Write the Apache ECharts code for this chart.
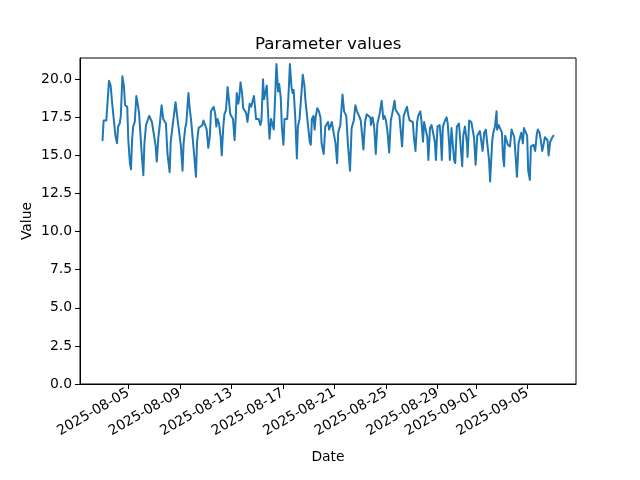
<!DOCTYPE html>
<html>
<head>
<meta charset="utf-8">
<script src="https://cdn.jsdelivr.net/npm/echarts@6/dist/echarts.min.js"></script>
<style>html,body{margin:0;padding:0;background:#fff}#c{width:640px;height:480px}</style>
</head>
<body>
<div id="c"></div>
<script>
const startDate = Date.UTC(2025, 7, 3, 0, 0);
const hoursFromStart = [0,2,5,7,12,15,18,20,24,27,29,32,34,37,40,42,46,48,51,53,55,57,60,63,65,68,71,73,76,78,81,84,87,90,92,95,99,101,104,106,110,113,116,118,121,125,127,130,133,136,
140,143,146,149,151,154,156,160,162,165,168,171,174,176,179,182,186,188,191,194,197,200,202,205,207,210,212,214,217,220,222,225,227,230,233,235,238,241,243,246,248,250,253,255,257,260,262,266,268,270,274,277,
279,282,284,286,288,291,294,296,299,301,304,306,308,311,314,317,319,322,324,327,329,332,334,337,339,342,344,347,349,352,354,356,359,362,364,367,370,373,376,378,381,383,386,388,390,393,395,397,400,403,406,408,412,415,418,
420,422,424,427,430,434,437,439,443,447,450,454,457,461,464,468,471,474,476,479,481,486,489,492,495,499,500,503,506,509,512,516,520,523,525,528,531,534,537,540,544,546,549,553,555,558,
561,564,567,570,572,575,578,580,583,586,588,592,594,597,599,602,605,607,610,613,616,619,621,624,628,630,632,634,638,641,643,646,647,650,653,655,657,660,664,667,670,672,675,679,680,683,687,690,692,695,698,701,
703,706,708,711,714,717,720,722,726,728,731,734,735,738,741,744,746,748,750,753,755,759,762,764,767,770,772,775,778,780,783,785,788,791,793,796,798,801,803,806,809,811,814,816,819,821,824,826,829,831,834,836,838,840];
const values = [16.0,17.3,17.2,17.3,19.9,19.6,18.4,18.3,16.3,15.8,16.9,17.1,17.6,20.2,19.5,18.3,18.2,16.0,14.5,14.1,16.0,16.9,17.2,18.9,18.5,17.8,17.7,15.1,13.7,15.8,17.0,17.1,17.6,17.6,17.2,17.1,15.6,14.6,16.2,16.8,18.3,17.4,17.3,17.1,15.1,13.9,15.9,16.8,16.9,18.5,
17.3,17.2,15.6,14.0,15.8,16.8,17.1,19.1,18.2,17.3,17.2,14.9,13.6,15.9,16.8,16.9,17.0,17.3,17.0,16.7,15.5,16.3,17.9,18.0,18.2,17.7,16.9,17.4,17.1,16.2,15.0,16.9,17.7,18.0,19.5,18.8,17.7,17.6,17.4,16.0,17.4,19.1,18.4,18.9,19.8,19.1,18.1,17.9,17.7,17.2,18.4,18.2,
18.5,18.9,18.2,17.4,17.5,17.4,17.0,17.3,20.0,18.7,18.6,19.6,18.0,16.1,17.4,17.5,16.7,19.3,21.0,19.2,19.7,18.8,16.9,15.7,17.4,17.4,17.4,19.4,21.0,19.5,19.1,19.3,17.5,14.8,16.9,17.4,17.5,20.3,19.6,18.6,18.6,16.9,15.9,15.7,17.4,17.6,16.7,17.5,18.1,17.9,17.5,15.8,15.1,16.9,17.0,
17.2,16.7,16.9,17.2,17.2,15.8,14.5,16.5,17.0,19.0,17.9,17.6,15.8,14.0,16.8,17.3,18.3,17.9,18.0,17.5,17.3,15.4,17.2,17.7,17.8,17.5,17.0,17.5,16.9,15.1,17.1,17.7,18.6,17.4,17.6,17.3,16.5,15.2,17.3,17.8,18.6,18.0,18.0,17.6,17.5,15.6,
17.6,17.7,18.2,17.6,17.3,17.4,17.2,16.2,15.3,17.2,17.6,17.9,17.3,15.9,17.2,17.1,16.2,14.7,16.8,17.0,16.9,15.9,14.7,16.9,17.0,16.2,14.7,16.9,17.3,17.5,17.1,15.6,14.7,16.8,16.8,14.7,14.5,16.9,17.1,17.1,14.3,16.3,16.9,15.8,14.9,17.3,17.2,17.2,16.2,14.4,16.3,16.4,
16.6,16.5,15.3,16.5,16.7,16.6,14.7,13.3,16.0,16.5,16.9,17.9,16.7,17.0,16.9,16.5,14.9,14.3,16.3,16.4,15.7,15.6,16.7,16.8,16.2,14.7,13.6,15.8,15.9,16.5,15.8,16.8,16.8,16.3,14.0,13.4,15.6,15.5,15.7,15.3,16.4,16.7,16.5,16.1,15.3,15.6,16.2,16.3,16.0,15.0,15.9,16.0,16.2,16.3];
const xTickDates = ['2025-08-05','2025-08-09','2025-08-13','2025-08-17','2025-08-21','2025-08-25','2025-08-29','2025-09-01','2025-09-05'];
const yTicks = [0,2.5,5,7.5,10,12.5,15,17.5,20];

const H = 3600 * 1000;
const parseDay = s => { const p = s.split('-').map(Number); return Date.UTC(p[0], p[1]-1, p[2]); };
const xTickVals = xTickDates.map(parseDay);
const n = Math.min(hoursFromStart.length, values.length);
const seriesData = [];
for (let i = 0; i < n; i++) seriesData.push([startDate + hoursFromStart[i] * H, values[i]]);
const pad = (v) => (v < 10 ? '0' : '') + v;
const fmt = (t) => { const d = new Date(t); return d.getUTCFullYear() + '-' + pad(d.getUTCMonth()+1) + '-' + pad(d.getUTCDate()); };

const xMin = startDate - 1.75 * 24 * H;
const xMax = startDate + 840 * H + 1.75 * 24 * H;
const font = 'DejaVu Sans';
const chart = echarts.init(document.getElementById('c'), null, {renderer: 'canvas'});
chart.setOption({
  animation: false,
  backgroundColor: '#ffffff',
  title: {
    text: 'Parameter values', left: 250, top: 31,
    textStyle: {fontFamily: font, fontSize: 16.7, fontWeight: 'normal', color: '#000'}
  },
  grid: {left: 80, right: 64, top: 58, bottom: 96, show: true, borderColor: '#000', borderWidth: 1, backgroundColor: 'transparent'},
  xAxis: {
    type: 'value', min: xMin, max: xMax, scale: true,
    name: 'Date', nameLocation: 'middle', nameGap: 66, nameMoveOverlap: false,
    nameTextStyle: {fontFamily: font, fontSize: 13.9, color: '#000'},
    axisLine: {show: true, onZero: false, lineStyle: {color: '#000', width: 1}},
    axisTick: {show: true, length: 5, lineStyle: {color: '#000'}, customValues: xTickVals},
    axisLabel: {rotate: 30, fontFamily: font, fontSize: 13.9, color: '#000', margin: 8, customValues: xTickVals, formatter: (v) => fmt(v), hideOverlap: false},
    splitLine: {show: false}
  },
  yAxis: {
    type: 'value', min: 0, max: 21.4,
    name: 'Value', nameLocation: 'middle', nameGap: 46, nameMoveOverlap: false,
    nameTextStyle: {fontFamily: font, fontSize: 13.9, color: '#000'},
    axisLine: {show: true, lineStyle: {color: '#000', width: 1}},
    axisTick: {show: true, length: 5, lineStyle: {color: '#000'}, customValues: yTicks},
    axisLabel: {fontFamily: font, fontSize: 13.9, color: '#000', margin: 8, customValues: yTicks, formatter: (v) => v.toFixed(1)},
    splitLine: {show: false}
  },
  series: [{
    type: 'line', data: seriesData, showSymbol: false, symbol: 'none',
    lineStyle: {color: '#1f77b4', width: 2, join: 'round', cap: 'round'},
    itemStyle: {color: '#1f77b4'}
  }]
});
</script>
</body>
</html>
